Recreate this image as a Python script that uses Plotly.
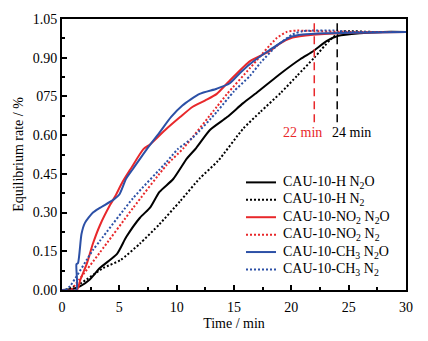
import plotly.graph_objects as go

# ---- data ----
h_n2o_t = [0, 1.0, 1.6, 2.4, 3.3, 4.8, 5.6, 6.8, 7.7, 8.5, 9.7, 10.9, 11.7, 12.9, 14.4, 15.8, 17.0, 19.1, 20.8, 21.9, 23.1, 24.1, 26, 28, 30]
h_n2o_v = [0, 0.005, 0.015, 0.04, 0.085, 0.14, 0.205, 0.28, 0.32, 0.38, 0.43, 0.51, 0.55, 0.62, 0.67, 0.724, 0.765, 0.84, 0.895, 0.925, 0.965, 0.985, 0.995, 1.0, 1.0]

h_n2_t = [0.3, 1.6, 3.6, 5.1, 6.8, 8.5, 10.3, 12.0, 13.6, 15.8, 17.3, 19.1, 20.5, 22.0, 23.4, 24.3, 25, 27, 30]
h_n2_v = [0, 0.025, 0.085, 0.116, 0.18, 0.255, 0.344, 0.432, 0.50, 0.625, 0.69, 0.765, 0.83, 0.90, 0.97, 1.0, 1.003, 1.0, 1.0]

no2_n2o_t = [0, 1.3, 1.6, 2.15, 2.7, 3.3, 4.2, 4.6, 5.3, 6.0, 7.1, 7.7, 9.0, 10.3, 11.4, 12.5, 13.5, 14.6, 16.4, 18.1, 19.0, 20.1, 21.9, 25, 30]
no2_n2o_v = [0, 0, 0.04, 0.10, 0.18, 0.25, 0.33, 0.36, 0.42, 0.47, 0.546, 0.565, 0.62, 0.67, 0.71, 0.735, 0.76, 0.81, 0.887, 0.925, 0.955, 0.978, 0.989, 0.997, 1.0]

no2_n2_t = [0.8, 1.5, 3.3, 6.2, 9.1, 10.6, 13.5, 14.4, 16.4, 18.7, 19.6, 20.5, 22, 25, 30]
no2_n2_v = [0, 0.04, 0.145, 0.318, 0.483, 0.55, 0.71, 0.76, 0.86, 0.975, 1.0, 1.005, 1.003, 1.0, 1.0]

ch3_n2o_t = [0, 1.25, 1.26, 1.4, 1.7, 2.0, 2.7, 3.3, 4.5, 5.0, 5.6, 6.2, 7.4, 8.5, 9.5, 10.5, 12.0, 13.5, 14.6, 15.5, 16.4, 18.1, 19.9, 21, 23, 30]
ch3_n2o_v = [0, 0, 0.10, 0.105, 0.217, 0.26, 0.30, 0.318, 0.35, 0.37, 0.432, 0.47, 0.546, 0.61, 0.67, 0.715, 0.76, 0.78, 0.80, 0.84, 0.876, 0.93, 0.98, 0.99, 0.995, 1.0]

ch3_n2_t = [0.3, 0.7, 2.7, 3.3, 6.2, 9.1, 10.1, 11.4, 13.5, 15.0, 16.4, 17.3, 18.7, 20.1, 21, 24, 25, 30]
ch3_n2_v = [0, 0.015, 0.155, 0.19, 0.356, 0.495, 0.546, 0.59, 0.69, 0.77, 0.83, 0.88, 0.945, 0.99, 1.003, 1.005, 1.0, 1.0]

y_tickvals = [0, 0.15, 0.30, 0.45, 0.60, 0.75, 0.90, 1.05]
y_ticktext = ["0.00", "0.15", "0.30", "0.45", "0.60", "075", "0.90", "1.05"]
x_tickvals = [0, 5, 10, 15, 20, 25, 30]

mark_times = [22, 24]
mark_labels = ["22 min", "24 min"]

series_names = ["CAU-10-H N<sub>2</sub>O", "CAU-10-H N<sub>2</sub>", "CAU-10-NO<sub>2</sub> N<sub>2</sub>O",
                "CAU-10-NO<sub>2</sub> N<sub>2</sub>", "CAU-10-CH<sub>3</sub> N<sub>2</sub>O", "CAU-10-CH<sub>3</sub> N<sub>2</sub>"]

BLACK = "#000000"
RED = "#e8282b"
BLUE = "#2c50a6"
FONT = "Liberation Serif, Times New Roman, serif"

series = [
    (series_names[0], h_n2o_t, h_n2o_v, BLACK, "solid"),
    (series_names[1], h_n2_t, h_n2_v, BLACK, "2px,2px"),
    (series_names[2], no2_n2o_t, no2_n2o_v, RED, "solid"),
    (series_names[3], no2_n2_t, no2_n2_v, RED, "2px,2px"),
    (series_names[4], ch3_n2o_t, ch3_n2o_v, BLUE, "solid"),
    (series_names[5], ch3_n2_t, ch3_n2_v, BLUE, "2px,2px"),
]

# layout geometry (window pixels; page body margin is removed below)
FIG_W, FIG_H = 428, 341
M_L, M_R, M_T, M_B = 62, 22, 17, 47
PLOT_X0 = M_L
PLOT_Y0 = M_T
PLOT_W = FIG_W - M_L - M_R
PLOT_H = FIG_H - M_T - M_B

def px_to_paper(px, py):
    return (px - PLOT_X0) / PLOT_W, 1 - (py - PLOT_Y0) / PLOT_H

fig = go.Figure()
for name, t, v, c, d in series:
    fig.add_trace(go.Scatter(x=t, y=v, mode="lines", name=name, showlegend=False,
                             line=dict(color=c, width=2, dash=d, shape="spline", smoothing=0.6)))

# legend drawn as line samples + text (to match the compact row spacing of the reference)
LEG_LINE_X0, LEG_LINE_X1, LEG_TEXT_X = 246, 276, 281
LEG_ROW0, LEG_ROW_STEP = 184, 17.8
for i, (name, t, v, c, d) in enumerate(series):
    py = LEG_ROW0 + i * LEG_ROW_STEP
    x0, y0 = px_to_paper(LEG_LINE_X0, py)
    x1, _ = px_to_paper(LEG_LINE_X1, py)
    fig.add_shape(type="line", xref="paper", yref="paper", x0=x0, x1=x1, y0=y0, y1=y0,
                  line=dict(color=c, width=2, dash=d))
    xt, _ = px_to_paper(LEG_TEXT_X, py)
    fig.add_annotation(xref="paper", yref="paper", x=xt, y=y0, text=name, showarrow=False,
                       xanchor="left", yanchor="middle", font=dict(family=FONT, size=14, color="black"))

for tm, c in zip(mark_times, [RED, BLACK]):
    fig.add_shape(type="line", x0=tm, x1=tm, y0=0.65, y1=1.05, xref="x", yref="y",
                  line=dict(color=c, width=1.5, dash="8px,5px"))
fig.add_annotation(x=mark_times[0], y=0.61, text=mark_labels[0], showarrow=False,
                   xanchor="right", xshift=10, font=dict(color=RED, size=14, family=FONT))
fig.add_annotation(x=mark_times[1], y=0.61, text=mark_labels[1], showarrow=False,
                   xanchor="left", xshift=-7, font=dict(color=BLACK, size=14, family=FONT))

axis_common = dict(showline=True, linecolor="black", linewidth=2, mirror=True,
                   ticks="inside", ticklen=5, tickwidth=1.5, tickcolor="black",
                   showgrid=False, zeroline=False,
                   tickfont=dict(family=FONT, size=14, color="black"))

fig.update_xaxes(range=[0, 30], tickmode="array", tickvals=x_tickvals, ticklabelstandoff=3,
                 title=dict(text="Time / min", font=dict(family=FONT, size=14, color="black"), standoff=4),
                 minor=dict(ticks="inside", ticklen=3, tickwidth=1.5, tickcolor="black", dtick=2.5),
                 **axis_common)
fig.update_yaxes(range=[0, 1.05], tickmode="array", tickvals=y_tickvals, ticktext=y_ticktext,
                 title=dict(text="Equilibrium rate / %", font=dict(family=FONT, size=14, color="black"), standoff=6),
                 minor=dict(ticks="inside", ticklen=3, tickwidth=1.5, tickcolor="black", dtick=0.075),
                 **axis_common)

fig.update_layout(
    width=FIG_W, height=FIG_H,
    margin=dict(l=M_L, r=M_R, t=M_T, b=M_B),
    paper_bgcolor="white", plot_bgcolor="white",
    font=dict(family=FONT, size=14, color="black"),
    showlegend=False,
)

fig.write_html("out.html", config={"displayModeBar": False},
               post_script="document.body.style.margin='0';document.body.style.overflow='hidden';")
